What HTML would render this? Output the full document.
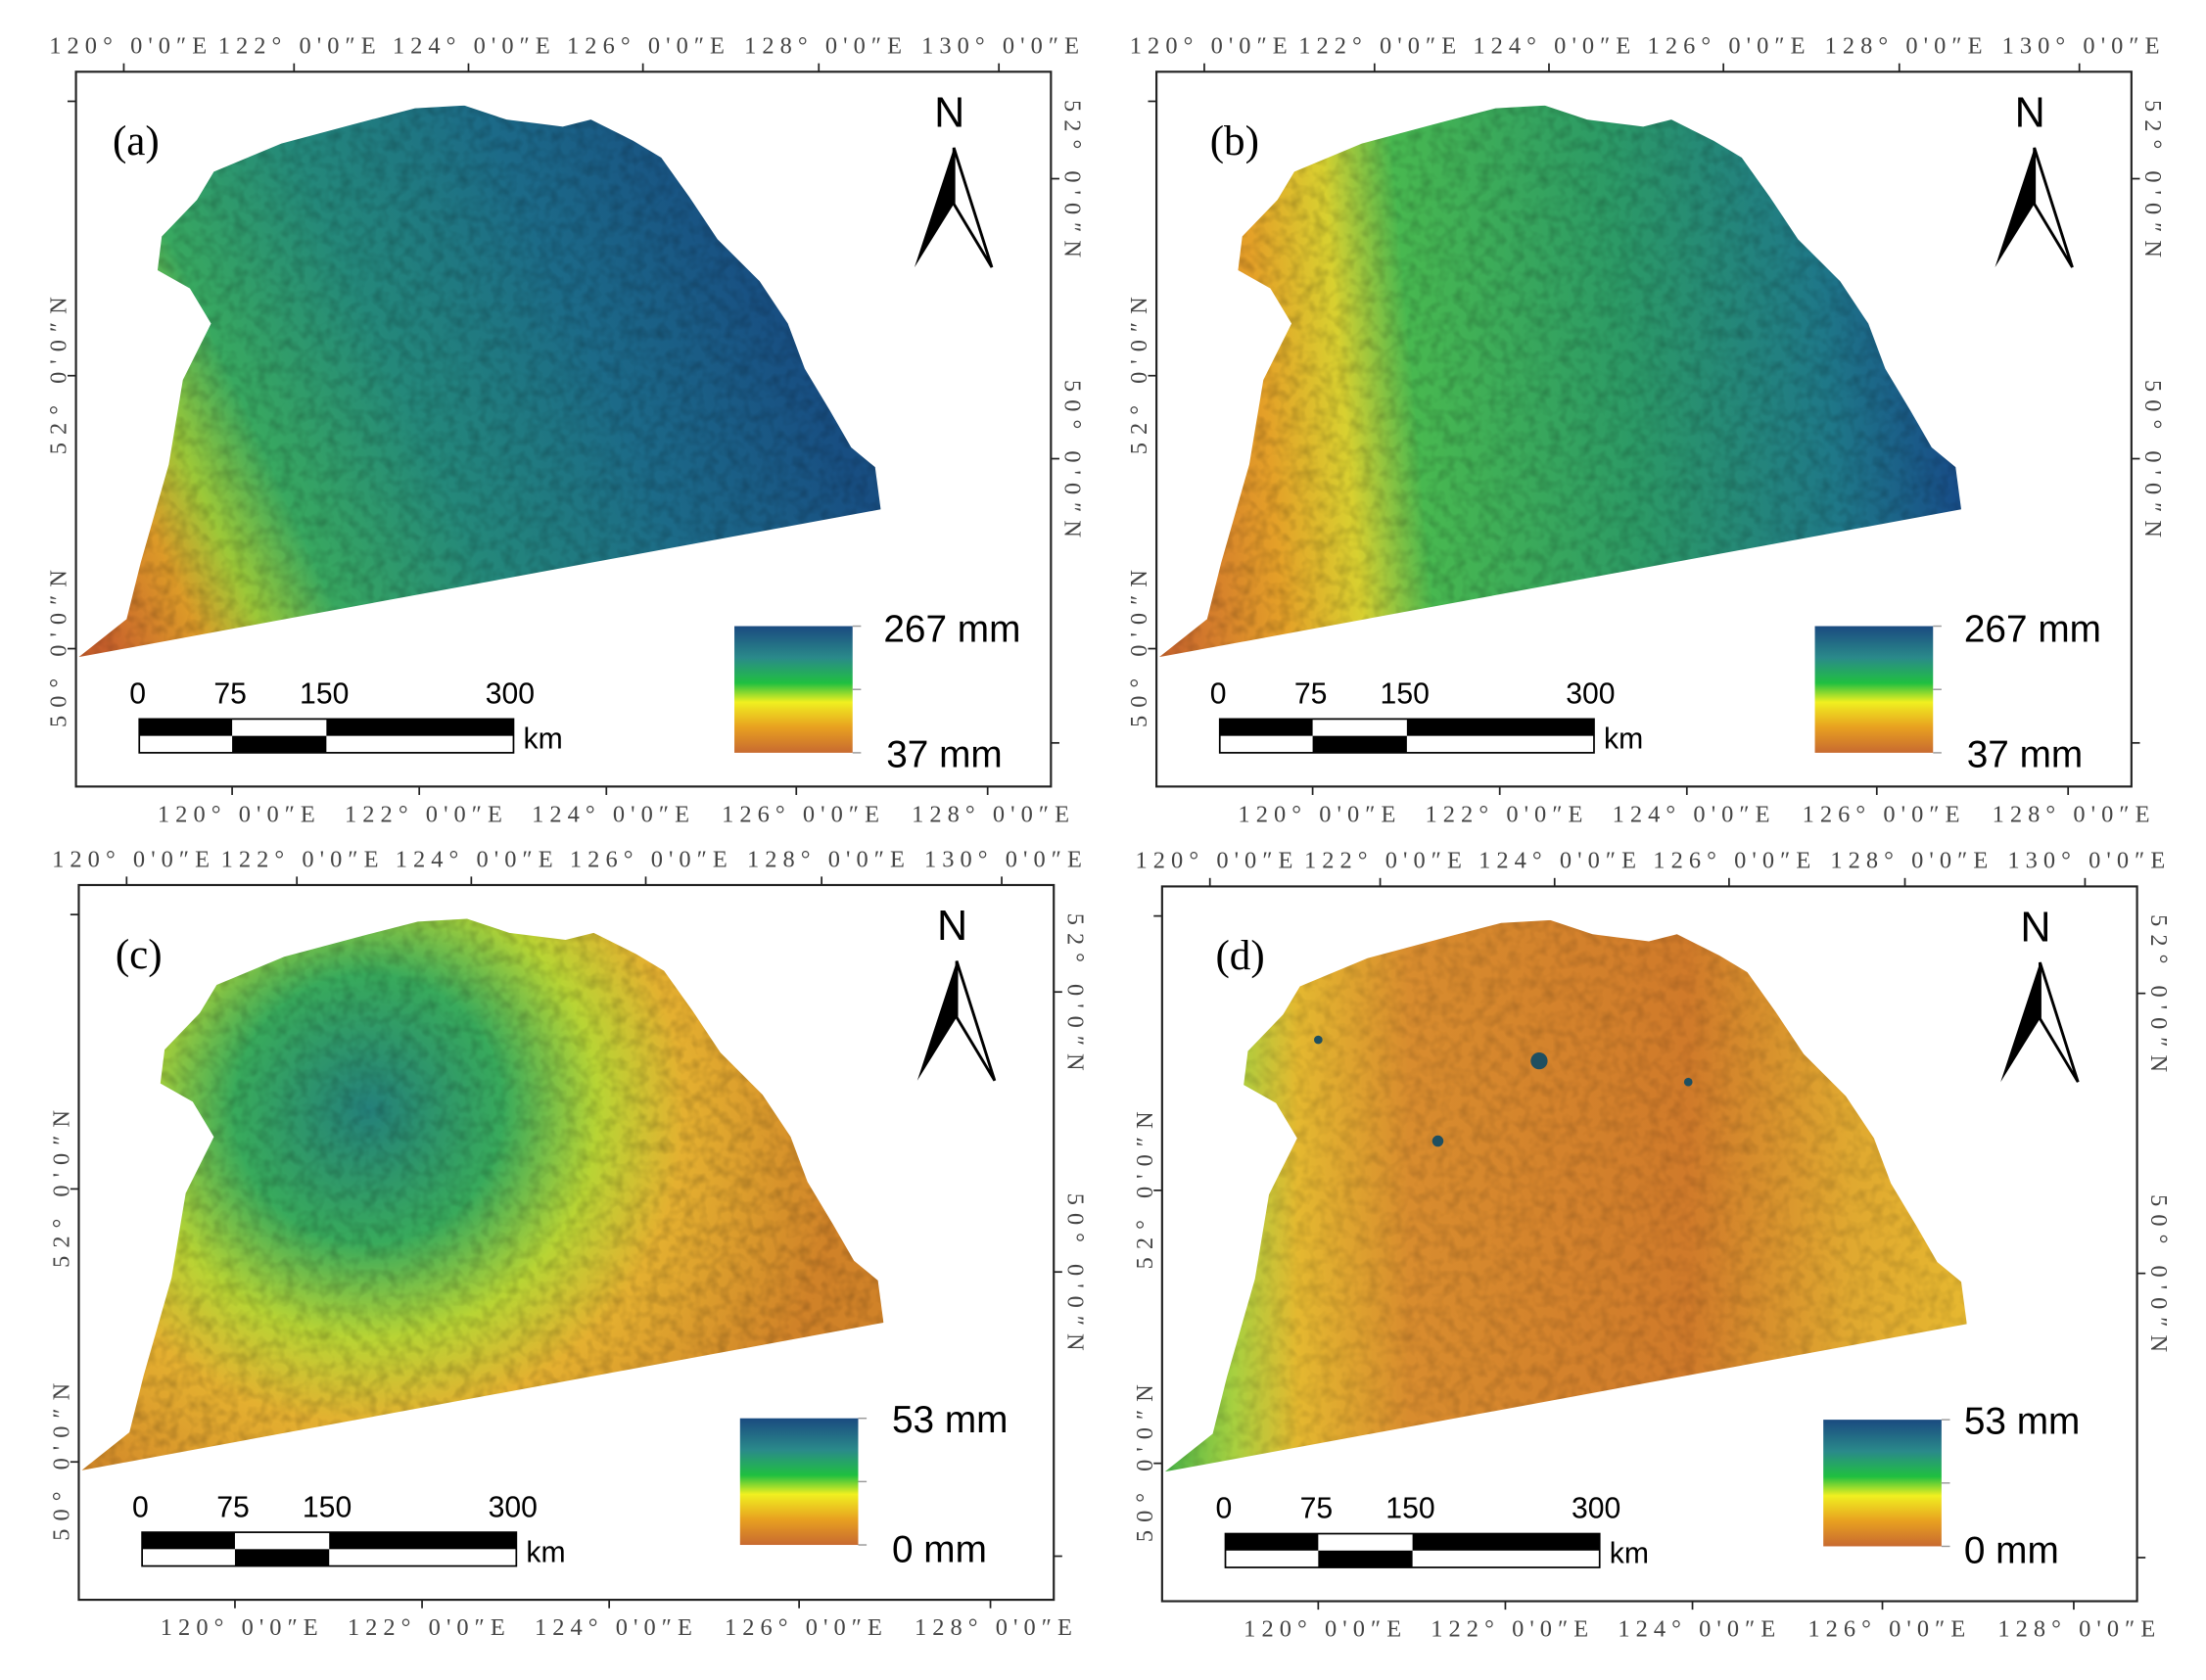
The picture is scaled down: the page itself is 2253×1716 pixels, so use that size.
<!DOCTYPE html>
<html><head><meta charset="utf-8"><style>
html,body{margin:0;padding:0;background:#fff}
svg{display:block}
.t{font-family:"Liberation Serif",serif;font-size:17px;fill:#444}
.s{font-family:"Liberation Sans",sans-serif;fill:#000}
</style></head><body>
<svg width="2253" height="1716" viewBox="0 0 1568 1194" preserveAspectRatio="none" xmlns="http://www.w3.org/2000/svg">
<defs>
<clipPath id="reg"><path d="M56,467 L90,440 L100,400 L120,330 L130,270 L150,230 L135,205 L112,192 L115,168 L140,142 L152,122 L200,102 L260,86 L295,77 L330,75 L360,85 L400,90 L420,85 L450,100 L470,112 L490,140 L510,170 L540,200 L560,230 L572,262 L590,292 L605,318 L622,332 L626,362 Z"/></clipPath>
<linearGradient id="ga" gradientUnits="userSpaceOnUse" x1="70" y1="450" x2="560" y2="230">
<stop offset="0" stop-color="#c8602c"/><stop offset="0.12" stop-color="#dc9a28"/><stop offset="0.2" stop-color="#9cc838"/><stop offset="0.3" stop-color="#38a860"/><stop offset="0.5" stop-color="#24887a"/><stop offset="0.75" stop-color="#1c6a88"/><stop offset="1" stop-color="#184e82"/></linearGradient>
<linearGradient id="gb" gradientUnits="userSpaceOnUse" x1="60" y1="380" x2="620" y2="330">
<stop offset="0" stop-color="#cc6a2e"/><stop offset="0.14" stop-color="#e4a028"/><stop offset="0.24" stop-color="#d8d030"/><stop offset="0.33" stop-color="#48b850"/><stop offset="0.6" stop-color="#2c9a66"/><stop offset="0.85" stop-color="#1f7888"/><stop offset="1" stop-color="#184e88"/></linearGradient>
<radialGradient id="gc" gradientUnits="userSpaceOnUse" cx="260" cy="210" r="340">
<stop offset="0" stop-color="#24807a"/><stop offset="0.28" stop-color="#38aa5c"/><stop offset="0.48" stop-color="#b8d434"/><stop offset="0.66" stop-color="#e4b030"/><stop offset="1" stop-color="#d08228"/></radialGradient>
<linearGradient id="gd" gradientUnits="userSpaceOnUse" x1="60" y1="0" x2="626" y2="0">
<stop offset="0" stop-color="#50b848"/><stop offset="0.08" stop-color="#a8d040"/><stop offset="0.16" stop-color="#e4b830"/><stop offset="0.3" stop-color="#d88c2e"/><stop offset="0.65" stop-color="#d07a2a"/><stop offset="0.85" stop-color="#e0a830"/><stop offset="1" stop-color="#e6b830"/></linearGradient>
<linearGradient id="bar" x1="0" y1="0" x2="0" y2="1">
<stop offset="0" stop-color="#1a4a80"/><stop offset="0.25" stop-color="#2a8a8a"/><stop offset="0.45" stop-color="#20c040"/><stop offset="0.6" stop-color="#f0f020"/><stop offset="0.8" stop-color="#e8a020"/><stop offset="1" stop-color="#c86a30"/></linearGradient>
<filter id="noise"><feTurbulence type="fractalNoise" baseFrequency="0.12" numOctaves="2" seed="3"/><feColorMatrix type="matrix" values="0 0 0 0 0  0 0 0 0 0  0 0 0 0 0  0 0 0 0.9 -0.35"/></filter>
<g id="frame">
<rect x="54" y="51" width="693" height="508" fill="none" stroke="#222" stroke-width="1.5"/>
<g stroke="#222" stroke-width="1.2">
<line x1="88" y1="45" x2="88" y2="51"/><line x1="209" y1="45" x2="209" y2="51"/><line x1="333" y1="45" x2="333" y2="51"/><line x1="457" y1="45" x2="457" y2="51"/><line x1="582" y1="45" x2="582" y2="51"/><line x1="710" y1="45" x2="710" y2="51"/>
<line x1="165" y1="559" x2="165" y2="565"/><line x1="298" y1="559" x2="298" y2="565"/><line x1="431" y1="559" x2="431" y2="565"/><line x1="566" y1="559" x2="566" y2="565"/><line x1="702" y1="559" x2="702" y2="565"/>
<line x1="48" y1="72" x2="54" y2="72"/><line x1="48" y1="267" x2="54" y2="267"/><line x1="48" y1="461" x2="54" y2="461"/>
<line x1="747" y1="127" x2="753" y2="127"/><line x1="747" y1="326" x2="753" y2="326"/><line x1="747" y1="528" x2="753" y2="528"/>
</g>
<g class="t">
<text x="35" y="38" textLength="112">120° 0'0″E</text><text x="155" y="38" textLength="112">122° 0'0″E</text><text x="279" y="38" textLength="112">124° 0'0″E</text><text x="403" y="38" textLength="112">126° 0'0″E</text><text x="529" y="38" textLength="112">128° 0'0″E</text><text x="655" y="38" textLength="112">130° 0'0″E</text>
<text x="112" y="584" textLength="112">120° 0'0″E</text><text x="245" y="584" textLength="112">122° 0'0″E</text><text x="378" y="584" textLength="112">124° 0'0″E</text><text x="513" y="584" textLength="112">126° 0'0″E</text><text x="648" y="584" textLength="112">128° 0'0″E</text>
<text transform="translate(47,267) rotate(-90)" text-anchor="middle" textLength="112">52° 0'0″N</text>
<text transform="translate(47,461) rotate(-90)" text-anchor="middle" textLength="112">50° 0'0″N</text>
<text transform="translate(757,127) rotate(90)" text-anchor="middle" textLength="112">52° 0'0″N</text>
<text transform="translate(757,326) rotate(90)" text-anchor="middle" textLength="112">50° 0'0″N</text>
</g>
<text x="664" y="90" class="s" font-size="30">N</text>
<path d="M678,105 L650,190 L678,145 Z" fill="#000"/>
<path d="M678,105 L705,190 L678,145 Z" fill="#fff" stroke="#000" stroke-width="2"/>
<g class="s" font-size="21"><text x="92" y="500">0</text><text x="152" y="500">75</text><text x="213" y="500">150</text><text x="345" y="500">300</text><text x="372" y="532">km</text></g>
<rect x="99" y="511" width="266" height="24" fill="#fff" stroke="#000" stroke-width="1.2"/>
<rect x="99" y="511" width="66" height="12" fill="#000"/><rect x="232" y="511" width="133" height="12" fill="#000"/><rect x="165" y="523" width="67" height="12" fill="#000"/>
</g>
<g id="legA">
<rect x="522" y="445" width="84" height="90" fill="url(#bar)"/>
<g stroke="#999"><line x1="606" y1="445" x2="612" y2="445"/><line x1="606" y1="490" x2="612" y2="490"/><line x1="606" y1="535" x2="612" y2="535"/></g>
</g>
<g id="legC">
<rect x="524" y="430" width="84" height="90" fill="url(#bar)"/>
<g stroke="#999"><line x1="608" y1="430" x2="614" y2="430"/><line x1="608" y1="475" x2="614" y2="475"/><line x1="608" y1="520" x2="614" y2="520"/></g>
</g>
</defs>
<rect width="1568" height="1194" fill="#fff"/>
<g>
<use href="#frame"/><use href="#legA"/>
<g clip-path="url(#reg)"><rect x="50" y="70" width="590" height="400" fill="url(#ga)"/><rect x="50" y="70" width="590" height="400" filter="url(#noise)" opacity="0.4"/></g>
<text x="80" y="110" font-family="Liberation Serif,serif" font-size="30">(a)</text>
<g class="s" font-size="27"><text x="628" y="456">267 mm</text><text x="630" y="545">37 mm</text></g>
</g>
<g transform="translate(768,0)">
<use href="#frame"/><use href="#legA"/>
<g clip-path="url(#reg)"><rect x="50" y="70" width="590" height="400" fill="url(#gb)"/><rect x="50" y="70" width="590" height="400" filter="url(#noise)" opacity="0.4"/></g>
<text x="92" y="110" font-family="Liberation Serif,serif" font-size="30">(b)</text>
<g class="s" font-size="27"><text x="628" y="456">267 mm</text><text x="630" y="545">37 mm</text></g>
</g>
<g transform="translate(2,578)">
<use href="#frame"/><use href="#legC"/>
<g clip-path="url(#reg)"><rect x="50" y="70" width="590" height="400" fill="url(#gc)"/><rect x="50" y="70" width="590" height="400" filter="url(#noise)" opacity="0.4"/></g>
<text x="80" y="110" font-family="Liberation Serif,serif" font-size="30">(c)</text>
<g class="s" font-size="27"><text x="632" y="440">53 mm</text><text x="632" y="532">0 mm</text></g>
</g>
<g transform="translate(772,579)">
<use href="#frame"/><use href="#legC"/>
<g clip-path="url(#reg)"><rect x="50" y="70" width="590" height="400" fill="url(#gd)"/><rect x="50" y="70" width="590" height="400" filter="url(#noise)" opacity="0.3"/>
<g fill="#1f4f60"><circle cx="150" cy="112" r="5"/><circle cx="168" cy="104" r="4"/><circle cx="322" cy="175" r="6"/><circle cx="428" cy="190" r="3"/><circle cx="165" cy="160" r="3"/><circle cx="250" cy="232" r="4"/></g></g>
<text x="92" y="110" font-family="Liberation Serif,serif" font-size="30">(d)</text>
<g class="s" font-size="27"><text x="624" y="440">53 mm</text><text x="624" y="532">0 mm</text></g>
</g>
</svg>
</body></html>
